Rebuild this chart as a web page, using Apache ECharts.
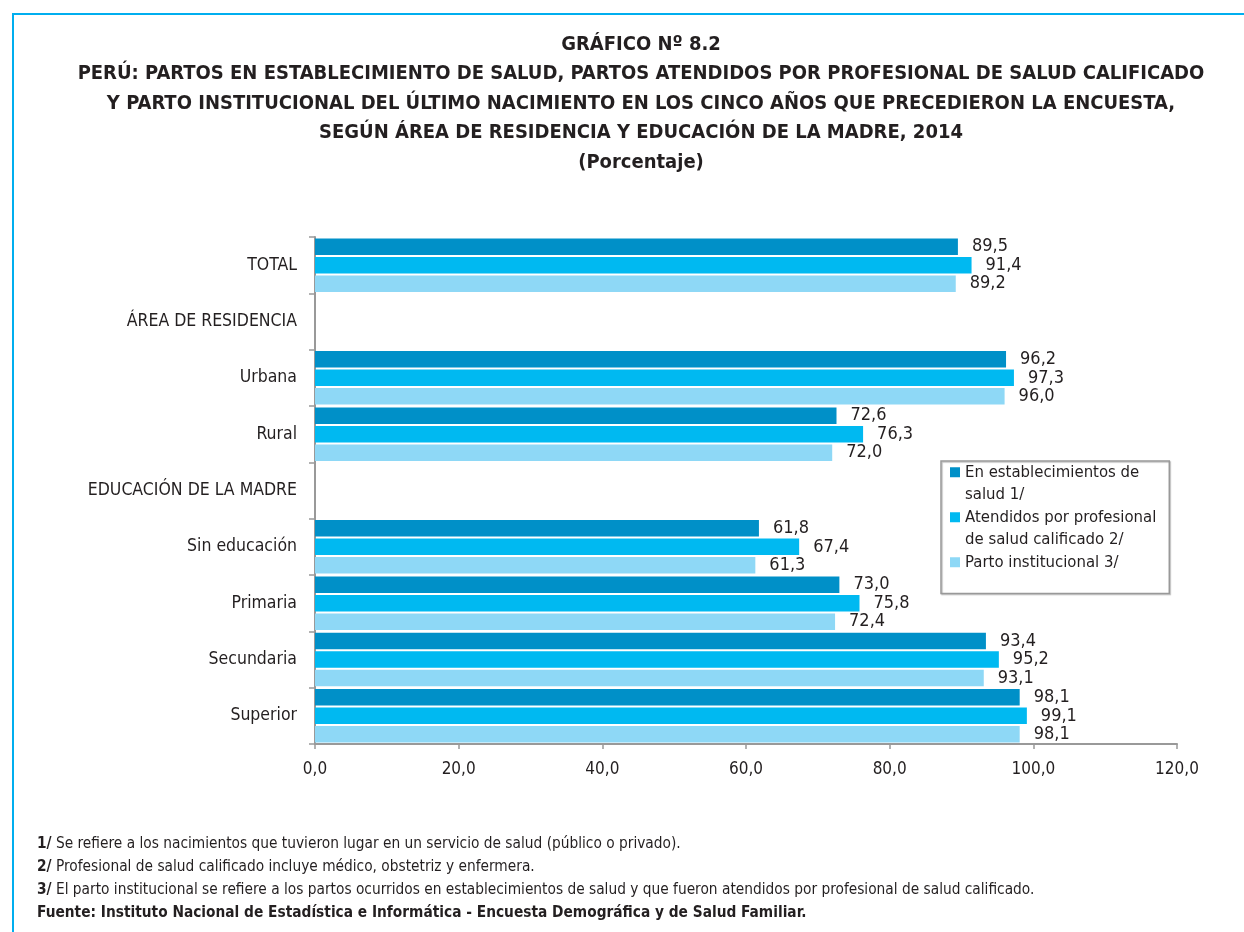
<!DOCTYPE html>
<html>
<head>
<meta charset="utf-8">
<script src="https://cdn.jsdelivr.net/npm/echarts@6/dist/echarts.min.js"></script>
<style>
  html, body { margin: 0; padding: 0; background: #fff; }
  #DataChart { width: 1244px; height: 932px; }
  #marco { position: absolute; left: 12px; top: 13px; right: 0; bottom: 0;
           border-left: 2px solid #00AEEF; border-top: 2px solid #00AEEF; pointer-events: none; }
</style>
</head>
<body>
<div id="DataChart"></div>
<div id="marco"></div>
<script>
// datos del gráfico
var categorias = ['TOTAL', 'ÁREA DE RESIDENCIA', 'Urbana', 'Rural', 'EDUCACIÓN DE LA MADRE',
                  'Sin educación', 'Primaria', 'Secundaria', 'Superior'];
var establecimientos = [89.5, null, 96.2, 72.6, null, 61.8, 73.0, 93.4, 98.1];
var atendidos        = [91.4, null, 97.3, 76.3, null, 67.4, 75.8, 95.2, 99.1];
var institucional    = [89.2, null, 96.0, 72.0, null, 61.3, 72.4, 93.1, 98.1];
var series_nombres = ['En establecimientos de salud 1/',
                      'Atendidos por profesional de salud calificado 2/',
                      'Parto institucional 3/'];
var ejeX = [0, 20, 40, 60, 80, 100, 120];

var fuente = '"Liberation Sans Narrow", "Arial Narrow", "DejaVu Sans Condensed", sans-serif';
var colores = ['#0090C8', '#00B9F1', '#8ED8F6'];

function coma(v) { return v.toFixed(1).replace('.', ','); }

var myChart = echarts.init(document.getElementById('DataChart'));

var leyendaTexto = {};
leyendaTexto[series_nombres[0]] = '{s0|}{g|}{t|En establecimientos de}\n{p|}{t|salud 1/}';
leyendaTexto[series_nombres[1]] = '{s1|}{g|}{t|Atendidos por profesional}\n{p|}{t|de salud calificado 2/}';
leyendaTexto[series_nombres[2]] = '{s2|}{g|}{t|Parto institucional 3/}';

function serie(i, datos) {
    return {
        name: series_nombres[i],
        type: 'bar',
        data: datos,
        barGap: '12%',
        barCategoryGap: '5%',
        itemStyle: { color: colores[i] },
        label: {
            show: true,
            position: 'right',
            distance: 14,
            fontFamily: fuente,
            fontSize: 18,
            color: '#231F20',
            formatter: function (p) { return coma(p.value); }
        }
    };
}

var option = {
    textStyle: { fontFamily: fuente },
    title: [
        {
            text: 'GRÁFICO Nº 8.2\nPERÚ: PARTOS EN ESTABLECIMIENTO DE SALUD, PARTOS ATENDIDOS POR PROFESIONAL DE SALUD CALIFICADO\n' +
                  'Y PARTO INSTITUCIONAL DEL ÚLTIMO NACIMIENTO EN LOS CINCO AÑOS QUE PRECEDIERON LA ENCUESTA,\n' +
                  'SEGÚN ÁREA DE RESIDENCIA Y EDUCACIÓN DE LA MADRE, 2014\n(Porcentaje)',
            left: 641,
            top: 30,
            padding: 0,
            textAlign: 'center',
            textStyle: {
                fontFamily: fuente,
                fontSize: 20,
                fontWeight: 'bold',
                color: '#231F20',
                lineHeight: 29.5,
                align: 'center'
            }
        },
        {
            text: '{b|1/} Se refiere a los nacimientos que tuvieron lugar en un servicio de salud (público o privado).\n' +
                  '{b|2/} Profesional de salud calificado incluye médico, obstetriz y enfermera.\n' +
                  '{b|3/} El parto institucional se refiere a los partos ocurridos en establecimientos de salud y que fueron atendidos por profesional de salud calificado.\n' +
                  '{b|Fuente: Instituto Nacional de Estadística e Informática - Encuesta Demográfica y de Salud Familiar.}',
            left: 37,
            top: 833,
            padding: 0,
            textStyle: {
                fontFamily: fuente,
                fontSize: 15.3,
                fontWeight: 'normal',
                color: '#231F20',
                lineHeight: 23,
                rich: {
                    b: { fontFamily: fuente, fontSize: 15.3, fontWeight: 'bold', color: '#231F20', lineHeight: 23 }
                }
            }
        }
    ],
    legend: {
        orient: 'vertical',
        left: 941,
        top: 461,
        padding: [0, 13, 20, 3],
        itemGap: 0,
        itemWidth: 1,
        itemHeight: 1,
        itemStyle: { opacity: 0 },
        borderColor: '#999',
        borderWidth: 1.5,
        shadowColor: 'rgba(0,0,0,0.25)',
        shadowOffsetX: 1,
        shadowOffsetY: 1,
        shadowBlur: 1,
        data: series_nombres,
        formatter: function (n) { return leyendaTexto[n]; },
        textStyle: {
            fontFamily: fuente,
            fontSize: 16.6,
            color: '#231F20',
            lineHeight: 22.5,
            rich: {
                s0: { width: 10, height: 10, backgroundColor: colores[0], verticalAlign: 'middle' },
                s1: { width: 10, height: 10, backgroundColor: colores[1], verticalAlign: 'middle' },
                s2: { width: 10, height: 10, backgroundColor: colores[2], verticalAlign: 'middle' },
                g: { width: 5 },
                p: { width: 15 },
                t: { fontFamily: fuente, fontSize: 16.6, color: '#231F20', lineHeight: 22.5, verticalAlign: 'middle' }
            }
        }
    },
    grid: {
        left: 315,
        right: 67,
        top: 237,
        bottom: 188,
        containLabel: false
    },
    xAxis: {
        type: 'value',
        min: ejeX[0],
        max: ejeX[ejeX.length - 1],
        interval: ejeX[1] - ejeX[0],
        axisLine: { show: true, lineStyle: { color: '#999', width: 2 } },
        axisTick: { show: true, length: 5, lineStyle: { color: '#999', width: 1.5 } },
        axisLabel: {
            fontFamily: fuente,
            fontSize: 17,
            color: '#231F20',
            margin: 17,
            formatter: function (v) { return coma(v); }
        },
        splitLine: { show: false }
    },
    yAxis: {
        type: 'category',
        data: categorias,
        inverse: true,
        axisLine: { show: true, lineStyle: { color: '#999', width: 2 } },
        axisTick: { show: true, length: 6, lineStyle: { color: '#999', width: 1.5 } },
        axisLabel: {
            fontFamily: fuente,
            fontSize: 17.5,
            color: '#231F20',
            margin: 18
        },
        splitLine: { show: false }
    },
    series: [
        serie(0, establecimientos),
        serie(1, atendidos),
        serie(2, institucional)
    ]
};

myChart.setOption(option);
</script>
</body>
</html>
